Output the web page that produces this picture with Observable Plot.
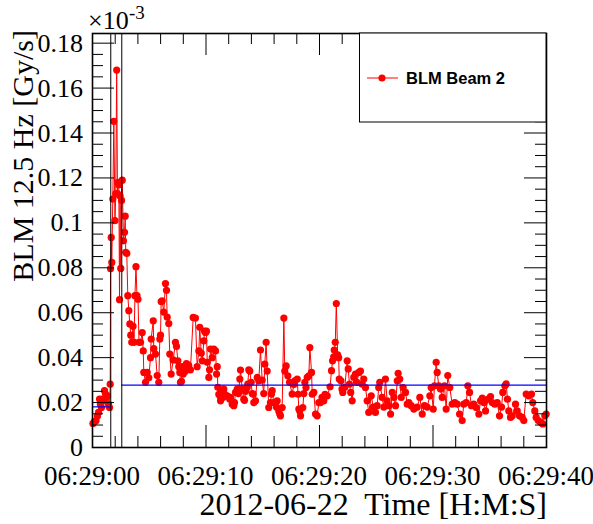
<!DOCTYPE html>
<html><head><meta charset="utf-8">
<script src="https://cdn.jsdelivr.net/npm/d3@7"></script>
<script src="https://cdn.jsdelivr.net/npm/@observablehq/plot@0.6"></script>
<style>body{margin:0;background:#fff} svg{display:block}</style>
</head><body><div id="chart"></div>
<script>
// ---- data (seconds after 06:29:00, value in 10^-3 Gy/s) ----
const seriesName = "BLM Beam 2";
const startTime = "2012-06-22T06:29:00Z";
const preSpike = [[0.04,0.0107],[0.18,0.0116],[0.31,0.0119],[0.44,0.0140],[0.53,0.0156],[0.62,0.0216],[0.70,0.0193],[0.79,0.0178],[0.88,0.0216],[0.97,0.0208],[1.06,0.0253],[1.15,0.0238],[1.23,0.0223],[1.32,0.0230],[1.41,0.0193],[1.50,0.0178],[1.56,0.0282]];
const spike = [[1.59,0.0796],[1.65,0.0935],[1.70,0.0824],[1.79,0.1106],[1.88,0.1452],[1.98,0.101],[2.05,0.113],[2.13,0.168],[2.20,0.113],[2.25,0.118],[2.32,0.117],[2.38,0.0658],[2.43,0.112],[2.49,0.0797],[2.56,0.110],[2.62,0.119],[2.73,0.092],[2.82,0.0958],[2.88,0.103],[2.93,0.0869],[3.02,0.0864],[3.11,0.0676],[3.20,0.0609],[3.29,0.055],[3.37,0.050],[3.46,0.0468],[3.57,0.054],[3.66,0.0468],[3.74,0.0676],[3.83,0.0805],[3.92,0.0676],[4.01,0.066],[4.10,0.0468]];
const decay = [[4.23,0.0468],[4.38,0.0512],[4.47,0.043],[4.52,0.0334],[4.67,0.029],[4.82,0.0334],[4.96,0.031],[5.11,0.040],[5.17,0.0483],[5.35,0.0564],[5.40,0.044],[5.55,0.0416],[5.70,0.032],[5.84,0.029],[5.93,0.0483],[5.99,0.050],[6.05,0.065],[6.14,0.0653],[6.28,0.0603],[6.43,0.073],[6.52,0.070],[6.58,0.058],[6.72,0.0552],[6.81,0.0416],[6.93,0.0327],[7.11,0.039],[7.31,0.0468],[7.40,0.045],[7.52,0.0386],[7.60,0.036],[7.69,0.0334],[7.75,0.029],[7.84,0.0295],[7.90,0.036],[7.99,0.0327],[8.19,0.034],[8.28,0.0373],[8.40,0.0368],[8.48,0.0365],[8.63,0.0346],[8.87,0.0579],[9.07,0.0576],[9.22,0.036],[9.37,0.043],[9.45,0.0535],[9.58,0.042],[9.67,0.0386],[9.81,0.0475],[9.87,0.0518],[9.96,0.0512],[10.04,0.0518],[10.11,0.0379],[10.25,0.0312],[10.31,0.0346],[10.40,0.0438],[10.55,0.040],[10.69,0.0438],[10.84,0.043],[10.93,0.0327],[10.99,0.036],[11.04,0.0268]];
const plateau = [[11.13,0.0237],[11.22,0.023],[11.28,0.0208],[11.43,0.025],[11.50,0.0223],[11.57,0.026],[11.63,0.0238],[11.87,0.023],[12.10,0.0215],[12.16,0.0223],[12.31,0.0193],[12.45,0.0186],[12.51,0.020],[12.60,0.0245],[12.75,0.026],[12.86,0.024],[12.98,0.0305],[13.04,0.0345],[13.19,0.026],[13.33,0.0215],[13.39,0.021],[13.48,0.025],[13.63,0.0267],[13.68,0.0282],[13.77,0.0346],[13.86,0.034],[13.98,0.029],[14.07,0.024],[14.16,0.0238],[14.21,0.020],[14.36,0.0208],[14.51,0.0312],[14.65,0.0297],[14.80,0.0434],[14.95,0.030],[15.09,0.024],[15.18,0.0371],[15.30,0.0468],[15.39,0.034],[15.53,0.0178],[15.68,0.020],[15.77,0.0238],[15.83,0.0253],[15.97,0.020],[16.21,0.018],[16.27,0.0208],[16.41,0.0163],[16.50,0.0149],[16.56,0.0141],[16.71,0.0178],[16.86,0.0576],[16.94,0.034],[17.06,0.0363],[17.21,0.0319],[17.36,0.029],[17.59,0.0238],[17.74,0.028],[17.82,0.0297],[18.04,0.0305],[18.11,0.0237],[18.18,0.0171],[18.26,0.0163],[18.33,0.0141],[18.53,0.0178],[18.62,0.024],[18.71,0.029],[18.81,0.0267],[18.92,0.0312],[19.06,0.0319],[19.15,0.0445],[19.30,0.0334],[19.36,0.0237],[19.50,0.0245],[19.65,0.0149],[19.80,0.0141],[19.94,0.020],[20.09,0.020],[20.22,0.0223],[20.38,0.0208],[20.49,0.0237],[20.68,0.0230],[20.93,0.027],[21.06,0.0342],[21.15,0.0386],[21.25,0.0404],[21.30,0.0434],[21.39,0.0468],[21.48,0.0641],[21.60,0.0412],[21.69,0.040],[21.74,0.0305],[21.89,0.0297],[21.98,0.026]];
const tail = [[22.05,0.0245],[22.23,0.0268],[22.44,0.0386],[22.53,0.035],[22.64,0.0282],[22.75,0.0245],[22.88,0.0208],[23.02,0.0312],[23.17,0.0327],[23.30,0.029],[23.46,0.0334],[23.61,0.034],[23.76,0.0282],[23.90,0.0305],[24.05,0.0267],[24.20,0.0208],[24.34,0.0156],[24.56,0.023],[24.73,0.018],[24.93,0.0156],[25.08,0.0186],[25.22,0.0267],[25.31,0.029],[25.52,0.0223],[25.67,0.018],[25.81,0.0305],[25.96,0.0208],[26.11,0.0186],[26.26,0.0149],[26.41,0.0245],[26.55,0.0223],[26.70,0.0186],[26.85,0.0297],[26.93,0.033],[27.07,0.0305],[27.20,0.0223],[27.37,0.0267],[27.58,0.0245],[27.73,0.0193],[27.87,0.020],[28.08,0.0186],[28.31,0.0171],[28.61,0.018],[28.84,0.0223],[29.05,0.0149],[29.25,0.0186],[29.49,0.018],[29.72,0.023],[29.84,0.0267],[30.02,0.0171],[30.13,0.0275],[30.28,0.0379],[30.37,0.0334],[30.51,0.0275],[30.66,0.026],[30.81,0.0223],[31.01,0.0275],[31.16,0.0171],[31.30,0.032],[31.48,0.0267],[31.69,0.0193],[31.92,0.020],[32.13,0.0193],[32.34,0.0149],[32.57,0.012],[32.71,0.0193],[32.93,0.020],[33.07,0.0275],[33.22,0.0245],[33.39,0.0186],[33.59,0.0193],[33.81,0.0178],[34.04,0.0149],[34.19,0.0208],[34.34,0.022],[34.48,0.020],[34.63,0.0163],[34.86,0.0215],[35.07,0.0227],[35.22,0.020],[35.45,0.0193],[35.66,0.020],[35.86,0.0141],[36.04,0.018],[36.15,0.0245],[36.33,0.0275],[36.45,0.0283],[36.56,0.0215],[36.68,0.0163],[36.83,0.0134],[36.98,0.0141],[37.27,0.0193],[37.42,0.0163],[37.62,0.0141],[37.86,0.0134],[38.00,0.012],[38.21,0.0238],[38.44,0.023],[38.68,0.0238],[38.79,0.020],[38.97,0.0163],[39.09,0.0134],[39.27,0.012],[39.47,0.0113],[39.67,0.0105],[39.85,0.0141],[39.97,0.0149]];
const markerSeconds = [1.61, 2.58];
const meanFrom = [0, 2.58];
const meanTo = [1.61, 40];
const meanValue = [0.0181, 0.0278];
const xMajorSeconds = [0, 10, 20, 30, 40];
const xMinorSeconds = [2,4,6,8,12,14,16,18,22,24,26,28,32,34,36,38];
const yMajor = [0,0.02,0.04,0.06,0.08,0.1,0.12,0.14,0.16,0.18];
const yMinor = [0.005,0.01,0.015,0.025,0.03,0.035,0.045,0.05,0.055,0.065,0.07,0.075,0.085,0.09,0.095,0.105,0.11,0.115,0.125,0.13,0.135,0.145,0.15,0.155,0.165,0.17,0.175];
const yTop = 0.1843;

// ---- rendering ----
const t0 = new Date(startTime).getTime();
const toDate = s => new Date(t0 + s * 1000);
const data = [...preSpike, ...spike, ...decay, ...plateau, ...tail].map(([t, v]) => ({time: toDate(t), value: v}));
const means = meanValue.map((v, i) => ({v, a: toDate(meanFrom[i]), b: toDate(meanTo[i])}));
const W = 593, H = 524, mL = 92, mR = 47, mT = 33, mB = 77;
const fh = H - mT - mB, fw = W - mL - mR;
const serif = "'Liberation Serif', 'Times New Roman', serif";
const sans = "'Liberation Sans', Arial, sans-serif";
const fmtX = d3.utcFormat("%H:%M:%S");
const fmtY = d => String(+d.toFixed(3));
const MAJ = 22, MIN = 11;

const plot = Plot.plot({
  width: W, height: H,
  marginLeft: mL, marginRight: mR, marginTop: mT, marginBottom: mB,
  style: {fontFamily: serif, background: "#fff", color: "#000", overflow: "visible"},
  x: {type: "utc", domain: [toDate(0), toDate(40)], axis: null},
  y: {domain: [0, yTop], axis: null},
  marks: [
    Plot.line(data, {x: "time", y: "value", stroke: "#ff0000", strokeWidth: 1}),
    Plot.dot(data, {x: "time", y: "value", r: 3.6, fill: "#ff0000", stroke: "none"}),
    Plot.ruleY(means, {y: "v", x1: "a", x2: "b", stroke: "#0000ff", strokeWidth: 1.2}),
    Plot.ruleX(markerSeconds.map(toDate), {stroke: "#000", strokeWidth: 1}),
    Plot.tickX(xMajorSeconds.map(toDate), {insetTop: fh - MAJ, stroke: "#000"}),
    Plot.tickX(xMinorSeconds.map(toDate), {insetTop: fh - MIN, stroke: "#000"}),
    Plot.tickX(xMajorSeconds.map(toDate), {insetBottom: fh - MAJ, stroke: "#000"}),
    Plot.tickX(xMinorSeconds.map(toDate), {insetBottom: fh - MIN, stroke: "#000"}),
    Plot.tickY(yMajor, {insetRight: fw - MAJ, stroke: "#000"}),
    Plot.tickY(yMinor, {insetRight: fw - MIN, stroke: "#000"}),
    Plot.tickY(yMajor, {insetLeft: fw - MAJ, stroke: "#000"}),
    Plot.tickY(yMinor, {insetLeft: fw - MIN, stroke: "#000"}),
    Plot.frame({stroke: "#000", strokeWidth: 1.6})
  ]
});

const svg = d3.select(plot);
const sx = plot.scale("x"), sy = plot.scale("y");
function addText(x, y, str, size, anchor, family, extra) {
  const t = svg.append("text").attr("x", x).attr("y", y)
    .attr("text-anchor", anchor).attr("font-family", family).attr("font-size", size).attr("fill", "#000")
    .style("font-family", family).style("font-size", size + "px").style("fill", "#000")
    .text(str);
  if (extra) extra(t);
  return t;
}
// tick labels, positioned with Plot's own scales
xMajorSeconds.forEach(s => addText(sx.apply(toDate(s)), 485, fmtX(toDate(s)), 27, "middle", serif));
yMajor.forEach(v => addText(83, sy.apply(v) + 9, fmtY(v), 26, "end", serif));
// exponent
addText(88, 29, "\u00d710", 26, "start", serif);
addText(129, 19, "-3", 19, "start", serif);
// y title
addText(0, 0, "BLM 12.5 Hz [Gy/s]", 30, "end", serif, t => t.attr("transform", "translate(33,30) rotate(-90)"));
// x title
addText(547, 515, "2012-06-22\u00a0 Time [H:M:S]", 32, "end", serif);
// legend
const lg = svg.append("g");
lg.append("rect").attr("x", 359.5).attr("y", 33).attr("width", 186.5).attr("height", 89)
  .attr("fill", "#fff").attr("stroke", "#000").attr("stroke-width", 1);
lg.append("line").attr("x1", 367).attr("x2", 398).attr("y1", 78).attr("y2", 78).attr("stroke", "#ff0000").attr("stroke-width", 1);
lg.append("circle").attr("cx", 382).attr("cy", 78).attr("r", 3.6).attr("fill", "#ff0000");
addText(406, 84, seriesName, 16.5, "start", sans, t => t.attr("font-weight", "bold").style("font-weight", "bold"));

document.getElementById("chart").appendChild(plot);
</script>
</body></html>
